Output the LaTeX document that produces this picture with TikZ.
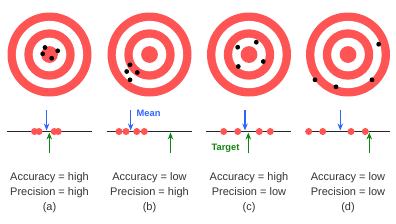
\documentclass[tikz,border=0pt]{standalone}
\usepackage{fontspec}
\setmainfont{Liberation Sans}
\usetikzlibrary{arrows.meta}
\definecolor{ringred}{RGB}{255,84,84}
\definecolor{meanblue}{RGB}{48,100,255}
\definecolor{targetgreen}{RGB}{16,132,16}
\tikzset{
  hitdot/.style={circle,fill=black,inner sep=0pt,minimum size=4.8pt},
  linedot/.style={circle,fill=ringred,inner sep=0pt,minimum size=7pt},
  meanarrow/.style={meanblue,line width=1.3pt,-{Stealth[length=7pt,width=5.5pt]}},
  targetarrow/.style={targetgreen,line width=1.3pt,-{Stealth[length=7pt,width=5.5pt]}},
  caption/.style={align=center,font=\fontsize{11}{15}\selectfont,text=black!80}
}
\begin{document}
\begin{tikzpicture}[x=1pt,y=-1pt]
\useasboundingbox (0,0) rectangle (396,223);
% targets
\foreach \cx/\n in {49.5/a,149.5/b,249/c,348/d} {
  \coordinate (t-\n) at (\cx,54.5);
  \fill[ringred] (t-\n) circle (42pt);
  \fill[white] (t-\n) circle (33.6pt);
  \fill[ringred] (t-\n) circle (25.2pt);
  \fill[white] (t-\n) circle (16.8pt);
  \fill[ringred] (t-\n) circle (8.4pt);
}
% hits
\foreach \p in {(45,47.5),(42.7,53.8),(57.7,50.8),(51.7,58.2)} \node[hitdot] at \p {};
\foreach \p in {(130,64.8),(126.7,71.5),(137.3,72.5),(130,79.8)} \node[hitdot] at \p {};
\foreach \p in {(237.7,47.2),(256.3,42.2),(263.3,61.5),(238.3,66.5)} \node[hitdot] at \p {};
\foreach \p in {(378.7,44.2),(315,79.8),(336,86.8),(372,79.8)} \node[hitdot] at \p {};
% number lines
\foreach \cx/\n in {49.2/a,149/b,248.5/c,347.5/d} {
  \coordinate (l-\n-w) at (\cx-42.5,131.5);
  \coordinate (l-\n-e) at (\cx+42.5,131.5);
  \draw[black!85,line width=1.4pt] (l-\n-w) -- (l-\n-e);
}
\foreach \x in {34.5,39,54.2,58.2,119,126,136.7,144.3,223.7,237.7,259.3,270.3,308.7,322.7,351,365.3}
  \node[linedot] at (\x,131.5) {};
% mean and target arrows
\foreach \m/\t/\n in {46.6/49.3/a,130.7/170.5/b,245/248.3/c,340.3/369.3/d} {
  \coordinate (m-\n-top) at (\m,110);
  \coordinate (m-\n) at (\m,130.5);
  \coordinate (g-\n-bot) at (\t,153);
  \coordinate (g-\n) at (\t,132.5);
  \draw[meanarrow] (m-\n-top) -- (m-\n);
  \draw[targetarrow] (g-\n-bot) -- (g-\n);
}
\node[anchor=west,inner sep=0pt,text=meanblue,font=\fontsize{9.3}{11}\selectfont\bfseries] (meanlbl) at (136.5,113.5) {Mean};
\node[anchor=west,inner sep=0pt,text=targetgreen,font=\fontsize{9.3}{11}\selectfont\bfseries] (tgtlbl) at (211.5,148) {Target};
% captions
\node[caption] (cap-a) at (49.5,192.5) {Accuracy = high\\Precision = high\\(a)};
\node[caption] (cap-b) at (149.5,192.5) {Accuracy = low\\Precision = high\\(b)};
\node[caption] (cap-c) at (249,192.5) {Accuracy = high\\Precision = low\\(c)};
\node[caption] (cap-d) at (348,192.5) {Accuracy = low\\Precision = low\\(d)};
\end{tikzpicture}
\end{document}
